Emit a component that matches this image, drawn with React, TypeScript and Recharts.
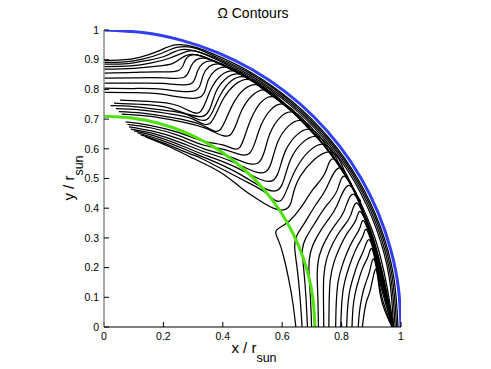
import React from 'react';
import { LineChart, Line, XAxis, YAxis, Customized } from 'recharts';

type Pt = [number, number];

const FONT = '"Liberation Sans", Arial, Helvetica, sans-serif';

const xTickValues = [0, 0.2, 0.4, 0.6, 0.8, 1];
const xTickLabels = ['0', '0.2', '0.4', '0.6', '0.8', '1'];
const yTickValues = [0, 0.1, 0.2, 0.3, 0.4, 0.5, 0.6, 0.7, 0.8, 0.9, 1];
const yTickLabels = ['0', '0.1', '0.2', '0.3', '0.4', '0.5', '0.6', '0.7', '0.8', '0.9', '1'];

// solar surface, r = 1
const surfaceCircle: Pt[] = [
  [0, 1], [0.1305, 0.9914], [0.2588, 0.9659], [0.3827, 0.9239], [0.5, 0.866], [0.6088, 0.7934],
  [0.7071, 0.7071], [0.7934, 0.6088], [0.866, 0.5], [0.9239, 0.3827], [0.9659, 0.2588], [0.9914, 0.1305], [1, 0],
];

// base of the convection zone, r = 0.71
const tachoclineCircle: Pt[] = [
  [0, 0.71], [0.0927, 0.7039], [0.1837, 0.6858], [0.2717, 0.656], [0.355, 0.6149], [0.4322, 0.5633],
  [0.502, 0.502], [0.5633, 0.4322], [0.6149, 0.355], [0.656, 0.2717], [0.6858, 0.1837], [0.7039, 0.0927], [0.71, 0],
];

// contours starting on the rotation axis
const polarContours: Pt[][] = [
  [[0, 0.897], [0.06, 0.899], [0.12, 0.908], [0.18, 0.928], [0.24, 0.95], [0.3, 0.944], [0.371, 0.918], [0.495, 0.857], [0.636, 0.758], [0.758, 0.636], [0.857, 0.495], [0.93, 0.339], [0.975, 0.172], [0.99, 0]],
  [[0, 0.891], [0.07, 0.893], [0.13, 0.902], [0.19, 0.92], [0.25, 0.942], [0.31, 0.938], [0.369, 0.913], [0.493, 0.853], [0.633, 0.755], [0.755, 0.633], [0.853, 0.493], [0.926, 0.337], [0.97, 0.171], [0.985, 0]],
  [[0, 0.885], [0.08, 0.887], [0.15, 0.898], [0.21, 0.914], [0.27, 0.935], [0.367, 0.909], [0.49, 0.849], [0.63, 0.751], [0.751, 0.63], [0.849, 0.49], [0.921, 0.335], [0.965, 0.17], [0.98, 0]],
  [[0, 0.877], [0.09, 0.879], [0.16, 0.889], [0.22, 0.905], [0.28, 0.928], [0.34, 0.918], [0.488, 0.844], [0.627, 0.747], [0.747, 0.627], [0.844, 0.488], [0.916, 0.333], [0.96, 0.169], [0.975, 0]],
  [[0, 0.868], [0.1, 0.871], [0.18, 0.878], [0.23, 0.887], [0.26, 0.905], [0.3, 0.918], [0.378, 0.891], [0.469, 0.847]],
  [[0, 0.855], [0.1, 0.857], [0.18, 0.859], [0.25, 0.863], [0.272, 0.895], [0.31, 0.917], [0.405, 0.879], [0.494, 0.832]],
  [[0, 0.838], [0.1, 0.839], [0.2, 0.839], [0.27, 0.841], [0.293, 0.878], [0.336, 0.905], [0.429, 0.868], [0.517, 0.818]],
  [[0, 0.821], [0.1, 0.821], [0.2, 0.82], [0.29, 0.818], [0.315, 0.862], [0.363, 0.896], [0.454, 0.855], [0.541, 0.802]],
  [[0, 0.804], [0.1, 0.803], [0.2, 0.8], [0.305, 0.795], [0.334, 0.848], [0.386, 0.886], [0.477, 0.843], [0.562, 0.788]],
  [[0, 0.79], [0.1, 0.789], [0.2, 0.783], [0.318, 0.772], [0.351, 0.832], [0.409, 0.875], [0.499, 0.83], [0.583, 0.773]],
];

// contours starting just above the tachocline
const upperContours: Pt[][] = [
  [[0.054, 0.764], [0.15, 0.76], [0.25, 0.745], [0.321, 0.722], [0.361, 0.802], [0.431, 0.862], [0.518, 0.814], [0.601, 0.755]],
  [[0.034, 0.754], [0.12, 0.75], [0.22, 0.737], [0.334, 0.71], [0.377, 0.792], [0.449, 0.852], [0.535, 0.803], [0.616, 0.742]],
  [[0.022, 0.745], [0.1, 0.742], [0.2, 0.73], [0.28, 0.715], [0.347, 0.699], [0.392, 0.782], [0.466, 0.843], [0.552, 0.791], [0.632, 0.729]],
  [[0.04, 0.735], [0.12, 0.731], [0.22, 0.718], [0.3, 0.7], [0.357, 0.686], [0.404, 0.772], [0.483, 0.834], [0.567, 0.781], [0.646, 0.717]],
  [[0.05, 0.725], [0.13, 0.72], [0.23, 0.705], [0.33, 0.68], [0.39, 0.663], [0.435, 0.752], [0.511, 0.816], [0.594, 0.76], [0.67, 0.694]],
  [[0.06, 0.717], [0.15, 0.71], [0.25, 0.693], [0.35, 0.666], [0.424, 0.646], [0.466, 0.734], [0.54, 0.798], [0.62, 0.739], [0.694, 0.67]],
];

// contours starting below the tachocline
const lowerContours: Pt[][] = [
  [[0.073, 0.691], [0.15, 0.68], [0.25, 0.655], [0.337, 0.625], [0.41, 0.61], [0.458, 0.606], [0.496, 0.703], [0.565, 0.776], [0.644, 0.715], [0.715, 0.644]],
  [[0.079, 0.682], [0.16, 0.67], [0.25, 0.645], [0.337, 0.612], [0.42, 0.593], [0.49, 0.585], [0.529, 0.68], [0.599, 0.751], [0.674, 0.686], [0.742, 0.612]],
  [[0.084, 0.674], [0.16, 0.66], [0.25, 0.634], [0.337, 0.6], [0.43, 0.571], [0.52, 0.553], [0.559, 0.652], [0.631, 0.724], [0.704, 0.656], [0.768, 0.579]],
  [[0.09, 0.666], [0.17, 0.65], [0.26, 0.62], [0.337, 0.59], [0.44, 0.553], [0.543, 0.522], [0.585, 0.623], [0.662, 0.696], [0.731, 0.625], [0.793, 0.545]],
  [[0.101, 0.66], [0.18, 0.64], [0.27, 0.607], [0.337, 0.58], [0.45, 0.535], [0.565, 0.492], [0.611, 0.593], [0.692, 0.666], [0.758, 0.592], [0.816, 0.51]],
  [[0.112, 0.654], [0.19, 0.63], [0.28, 0.595], [0.337, 0.571], [0.46, 0.513], [0.581, 0.459], [0.629, 0.566], [0.715, 0.642], [0.778, 0.565], [0.833, 0.481]],
  [[0.123, 0.648], [0.2, 0.62], [0.29, 0.583], [0.337, 0.563], [0.47, 0.494], [0.55, 0.448], [0.598, 0.428], [0.649, 0.537], [0.737, 0.616], [0.797, 0.538], [0.849, 0.452]],
  [[0.14, 0.64], [0.22, 0.607], [0.29, 0.573], [0.39, 0.522], [0.46, 0.47], [0.525, 0.425], [0.57, 0.4], [0.604, 0.394], [0.63, 0.42], [0.661, 0.508], [0.758, 0.59], [0.816, 0.51], [0.865, 0.422]],
];

// contours rising from the equatorial plane
const equatorContours: Pt[][] = [
  [[0.646, 0], [0.636, 0.08], [0.622, 0.16], [0.604, 0.24], [0.588, 0.29], [0.578, 0.318], [0.592, 0.335], [0.625, 0.358], [0.665, 0.405], [0.705, 0.465], [0.745, 0.52], [0.777, 0.564], [0.848, 0.451], [0.913, 0.297], [0.952, 0.14], [0.975, 0]],
  [[0.667, 0], [0.66, 0.1], [0.65, 0.2], [0.642, 0.27], [0.65, 0.31], [0.675, 0.35], [0.712, 0.41], [0.75, 0.47], [0.794, 0.536], [0.846, 0.45], [0.9, 0.32], [0.945, 0.15], [0.974, 0]],
  [[0.685, 0], [0.68, 0.1], [0.672, 0.2], [0.668, 0.26], [0.68, 0.3], [0.71, 0.35], [0.75, 0.41], [0.785, 0.46], [0.811, 0.507], [0.859, 0.419], [0.905, 0.3], [0.943, 0.15], [0.973, 0]],
  [[0.699, 0], [0.695, 0.1], [0.69, 0.19], [0.695, 0.25], [0.715, 0.3], [0.75, 0.355], [0.785, 0.41], [0.826, 0.477], [0.872, 0.388], [0.91, 0.28], [0.942, 0.15], [0.973, 0]],
  [[0.722, 0], [0.72, 0.1], [0.718, 0.18], [0.725, 0.24], [0.745, 0.29], [0.775, 0.34], [0.808, 0.39], [0.841, 0.447], [0.883, 0.357], [0.915, 0.262], [0.942, 0.15], [0.972, 0]],
  [[0.74, 0], [0.739, 0.09], [0.74, 0.17], [0.75, 0.23], [0.77, 0.28], [0.8, 0.33], [0.83, 0.375], [0.854, 0.416], [0.893, 0.325], [0.92, 0.24], [0.945, 0.14], [0.972, 0]],
  [[0.757, 0], [0.758, 0.08], [0.762, 0.16], [0.775, 0.22], [0.795, 0.27], [0.822, 0.32], [0.848, 0.36], [0.866, 0.386], [0.902, 0.293], [0.927, 0.2], [0.95, 0.11], [0.972, 0]],
  [[0.78, 0], [0.782, 0.08], [0.788, 0.15], [0.8, 0.2], [0.818, 0.25], [0.84, 0.295], [0.862, 0.335], [0.877, 0.354], [0.909, 0.261], [0.932, 0.17], [0.952, 0.09], [0.972, 0]],
  [[0.797, 0], [0.8, 0.07], [0.806, 0.13], [0.818, 0.18], [0.835, 0.23], [0.855, 0.275], [0.873, 0.31], [0.887, 0.323], [0.916, 0.228], [0.937, 0.14], [0.955, 0.07], [0.971, 0]],
  [[0.817, 0], [0.82, 0.06], [0.827, 0.12], [0.84, 0.17], [0.857, 0.22], [0.875, 0.26], [0.896, 0.291], [0.921, 0.196], [0.94, 0.12], [0.957, 0.06], [0.971, 0]],
  [[0.835, 0], [0.838, 0.06], [0.845, 0.11], [0.858, 0.16], [0.874, 0.205], [0.89, 0.24], [0.904, 0.259], [0.926, 0.163], [0.945, 0.09], [0.971, 0]],
  [[0.856, 0], [0.86, 0.05], [0.868, 0.1], [0.88, 0.145], [0.895, 0.19], [0.91, 0.227], [0.929, 0.131], [0.948, 0.06], [0.97, 0]],
  [[0.87, 0], [0.875, 0.04], [0.885, 0.09], [0.898, 0.13], [0.916, 0.195], [0.932, 0.1], [0.97, 0]],
];

const toRows = (pts: Pt[]) => pts.map(([x, y]) => ({ x, y }));

const contourLines = [...polarContours, ...upperContours, ...lowerContours, ...equatorContours];

const Titles = () => (
  <g fontFamily={FONT} fill="#000">
    <text x={253} y={18} textAnchor="middle" fontSize={14}>Ω Contours</text>
    <text x={254} y={353} textAnchor="middle" fontSize={15}>
      x / r<tspan fontSize={12.5} dy={9}>sun</tspan>
    </text>
    <text transform="translate(74,178) rotate(-90)" textAnchor="middle" fontSize={15}>
      y / r<tspan fontSize={12.5} dy={9}>sun</tspan>
    </text>
  </g>
);

const tickStyle = { fontFamily: FONT, fontSize: 10.5, fill: '#000' };

export default function App() {
  return (
    <div style={{ position: 'absolute', left: 0, top: 0, width: 491, height: 369, background: '#fff' }}>
      <LineChart width={491} height={369} margin={{ top: 30, right: 90, bottom: 12, left: 0 }}>
        <XAxis
          xAxisId="b"
          dataKey="x"
          type="number"
          domain={[0, 1]}
          allowDataOverflow
          ticks={xTickValues}
          interval={0}
          tickFormatter={(v: number) => xTickLabels[xTickValues.indexOf(v)] ?? String(v)}
          tick={tickStyle}
          tickSize={-5}
          tickMargin={11}
          height={30}
          stroke="#000"
          axisLine={{ stroke: '#000', strokeWidth: 1.2 }}
          tickLine={{ stroke: '#000' }}
        />
        <XAxis
          xAxisId="t"
          orientation="top"
          dataKey="x"
          type="number"
          domain={[0, 1]}
          allowDataOverflow
          ticks={xTickValues}
          interval={0}
          tick={false}
          tickSize={-5}
          height={0}
          axisLine={{ stroke: '#000', strokeWidth: 1.2 }}
          tickLine={{ stroke: '#000' }}
        />
        <YAxis
          yAxisId="l"
          type="number"
          domain={[0, 1]}
          allowDataOverflow
          ticks={yTickValues}
          interval={0}
          tickFormatter={(v: number) => yTickLabels[yTickValues.indexOf(v)] ?? String(v)}
          tick={tickStyle}
          tickSize={-5}
          tickMargin={10}
          width={104}
          axisLine={{ stroke: '#8c8c8c', strokeWidth: 1.5 }}
          tickLine={{ stroke: '#000' }}
        />
        <YAxis
          yAxisId="r"
          orientation="right"
          type="number"
          domain={[0, 1]}
          allowDataOverflow
          ticks={yTickValues}
          interval={0}
          tick={false}
          tickSize={-5}
          width={0}
          axisLine={{ stroke: '#8c8c8c', strokeWidth: 1.5 }}
          tickLine={{ stroke: '#000' }}
        />
        {contourLines.map((pts, i) => (
          <Line
            key={`c${i}`}
            xAxisId="b"
            yAxisId="l"
            data={toRows(pts)}
            dataKey="y"
            type="natural"
            stroke="#000"
            strokeWidth={1.25}
            dot={false}
            activeDot={false}
            isAnimationActive={false}
          />
        ))}
        <Line
          xAxisId="b"
          yAxisId="l"
          data={toRows(tachoclineCircle)}
          dataKey="y"
          type="natural"
          stroke="#4fe010"
          strokeWidth={3}
          dot={false}
          activeDot={false}
          isAnimationActive={false}
        />
        <Line
          xAxisId="b"
          yAxisId="l"
          data={toRows(surfaceCircle)}
          dataKey="y"
          type="natural"
          stroke="#3040f0"
          strokeWidth={3}
          dot={false}
          activeDot={false}
          isAnimationActive={false}
        />
        <Customized component={Titles} />
      </LineChart>
    </div>
  );
}
